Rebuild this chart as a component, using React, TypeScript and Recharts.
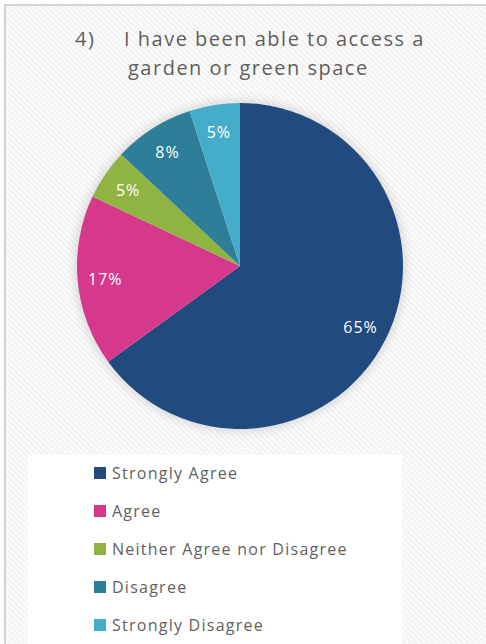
import { Cell, Pie, PieChart } from "recharts";

const CATEGORIES = ["Strongly Agree", "Agree", "Neither Agree nor Disagree", "Disagree", "Strongly Disagree"];
const VALUES = [65, 17, 5, 8, 5];
const COLORS = ["#214a7e", "#d6398b", "#8fb442", "#2d7e99", "#45adc9"];

const FONT = "'Open Sans', 'DejaVu Sans', sans-serif";
const TEXT = "#5f5f5f";

const data = CATEGORIES.map((name, i) => ({ name, value: VALUES[i] }));

const RAD = Math.PI / 180;

function renderLabel(props: any) {
  const { cx, cy, midAngle, outerRadius, percent } = props;
  const r = outerRadius * 0.83;
  const x = cx + r * Math.cos(-midAngle * RAD);
  const y = cy + r * Math.sin(-midAngle * RAD);
  return (
    <text x={x} y={y} fill="#ffffff" fontSize={16} letterSpacing={1} fontFamily={FONT} textAnchor="middle" dominantBaseline="central">
      {`${Math.round(percent * 100)}%`}
    </text>
  );
}

function LegendBox() {
  return (
    <div style={{ position: "absolute", left: 28, top: 455, width: 374, height: 189, background: "#ffffff" }}>
      {CATEGORIES.map((name, i) => (
        <div key={name} style={{ position: "absolute", left: 66, top: 6 + i * 38, height: 24, display: "flex", alignItems: "center" }}>
          <span style={{ width: 12, height: 12, background: COLORS[i], marginRight: 6, display: "inline-block" }} />
          <span style={{ fontFamily: FONT, fontSize: 16, letterSpacing: 1.25, color: TEXT }}>{name}</span>
        </div>
      ))}
    </div>
  );
}

export default function App() {
  return (
    <div style={{ position: "fixed", left: 0, top: 0, width: 486, height: 644, background: "#ffffff", overflow: "hidden" }}>
      <div
        style={{
          position: "absolute",
          left: 4,
          top: 4,
          width: 482,
          height: 640,
          borderTop: "2px solid #d2d2d2",
          borderLeft: "2px solid #d2d2d2",
          background: "repeating-linear-gradient(45deg, #f3f3f3 0px, #f3f3f3 2px, #fbfbfb 2px, #fbfbfb 4px)",
        }}
      />
      <div style={{ position: "absolute", left: 0, top: 25, width: 486, fontFamily: FONT, fontSize: 20, letterSpacing: 1.5, color: TEXT }}>
        <span style={{ position: "absolute", left: 75 }}>4)</span>
        <span style={{ position: "absolute", left: 124 }}>I have been able to access a</span>
        <span style={{ position: "absolute", left: 128, top: 29 }}>garden or green space</span>
      </div>
      <div
        style={{
          position: "absolute",
          left: 240 - 163,
          top: 266 - 163,
          width: 326,
          height: 326,
          borderRadius: "50%",
          boxShadow: "0 0 10px 3px rgba(0,0,0,0.12)",
        }}
      />
      <LegendBox />
      <div style={{ position: "absolute", left: 0, top: 0 }}>
        <PieChart width={486} height={450} margin={{ top: 0, right: 0, bottom: 0, left: 0 }}>
          <Pie
            data={data}
            dataKey="value"
            nameKey="name"
            cx={240}
            cy={266}
            outerRadius={163}
            startAngle={90}
            endAngle={-270}
            stroke="none"
            label={renderLabel}
            labelLine={false}
            isAnimationActive={false}
          >
            {data.map((d, i) => (
              <Cell key={d.name} fill={COLORS[i]} />
            ))}
          </Pie>
        </PieChart>
      </div>
    </div>
  );
}
